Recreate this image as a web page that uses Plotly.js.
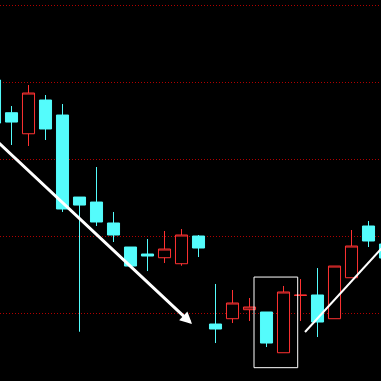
<!DOCTYPE html>
<html>
<head>
<meta charset="utf-8">
<script src="https://cdn.plot.ly/plotly-3.0.1.min.js"></script>
<style>html,body{margin:0;padding:0;background:#000;}#chart{width:381px;height:381px;}</style>
</head>
<body>
<div id="chart"></div>
<script>
// Candle index (trading sessions)
const sessions = [0,1,2,3,4,5,6,7,8,9,10,11,12,13,14,15,16,17,18,19,20,21,22,23];
const openPrices  = [19.030,18.605,18.332,18.770,18.575,17.510,17.445,17.173,16.861,16.770,16.722,16.644,17.004,15.861,15.930,16.047,16.017,15.488,16.232,16.238,15.930,16.462,17.134,16.900];
const highPrices  = [19.050,18.692,18.965,18.835,18.718,17.510,17.900,17.316,16.861,16.965,17.069,17.095,17.017,16.381,16.303,16.199,16.017,16.355,16.445,16.588,16.614,17.082,17.199,16.920];
const lowPrices   = [18.450,18.186,18.173,18.251,17.316,15.761,17.134,16.926,16.614,16.549,16.653,16.618,16.731,15.614,15.874,15.900,15.562,15.488,15.900,15.692,15.930,16.462,16.861,16.700];
const closePrices = [18.471,18.484,18.861,18.394,17.355,17.406,17.186,17.017,16.614,16.744,16.835,17.017,16.848,15.796,16.134,16.082,15.614,16.277,16.236,15.887,16.614,16.874,16.939,16.718];

// Annotation geometry (data coords): down-trend arrow, up-trend line, highlight box
const downArrowFrom = [0.03, 18.26];
const downArrowTo   = [11.62, 15.861];
const upLineFrom    = [18.265, 15.757];
const upLineTo      = [23.853, 17.104];
const boxX = [15.265, 17.835];
const boxY = [15.294, 16.471];

const RED = '#FF3232';
const CYAN = '#54FCFC';

const trace = {
  type: 'candlestick',
  x: sessions,
  open: openPrices,
  high: highPrices,
  low: lowPrices,
  close: closePrices,
  increasing: {line: {color: RED, width: 1}, fillcolor: '#000000'},
  decreasing: {line: {color: CYAN, width: 1}, fillcolor: CYAN},
  whiskerwidth: 0,
  hoverinfo: 'none'
};

const layout = {
  width: 381, height: 381,
  margin: {l: 0, r: 0, t: 0, b: 0, pad: 0},
  paper_bgcolor: '#000000',
  plot_bgcolor: '#000000',
  showlegend: false,
  boxgap: 0.29,
  boxgroupgap: 0,
  xaxis: {
    type: 'linear',
    range: [0.3235, 22.735],
    showgrid: false, zeroline: false, showticklabels: false, showline: false, ticks: '',
    rangeslider: {visible: false}
  },
  yaxis: {
    range: [15.121, 20.069],
    tick0: 16, dtick: 1,
    showgrid: true, gridcolor: '#B00000', gridwidth: 1, griddash: '1px,2px',
    zeroline: false, showticklabels: false, showline: false, ticks: ''
  },
  shapes: [
    {type: 'rect', xref: 'x', yref: 'y', x0: boxX[0], x1: boxX[1], y0: boxY[0], y1: boxY[1],
     line: {color: '#FFFFFF', width: 1}, fillcolor: 'rgba(0,0,0,0)'},
    {type: 'line', xref: 'x', yref: 'y', x0: upLineFrom[0], y0: upLineFrom[1], x1: upLineTo[0], y1: upLineTo[1],
     line: {color: '#FFFFFF', width: 2}}
  ],
  annotations: [
    {x: downArrowTo[0], y: downArrowTo[1], xref: 'x', yref: 'y',
     ax: downArrowFrom[0], ay: downArrowFrom[1], axref: 'x', ayref: 'y',
     text: '', showarrow: true, arrowhead: 2, arrowsize: 0.8, arrowwidth: 3,
     arrowcolor: '#FFFFFF', standoff: 0, startstandoff: 0}
  ]
};

Plotly.newPlot('chart', [trace], layout, {displayModeBar: false, staticPlot: true});
</script>
</body>
</html>
